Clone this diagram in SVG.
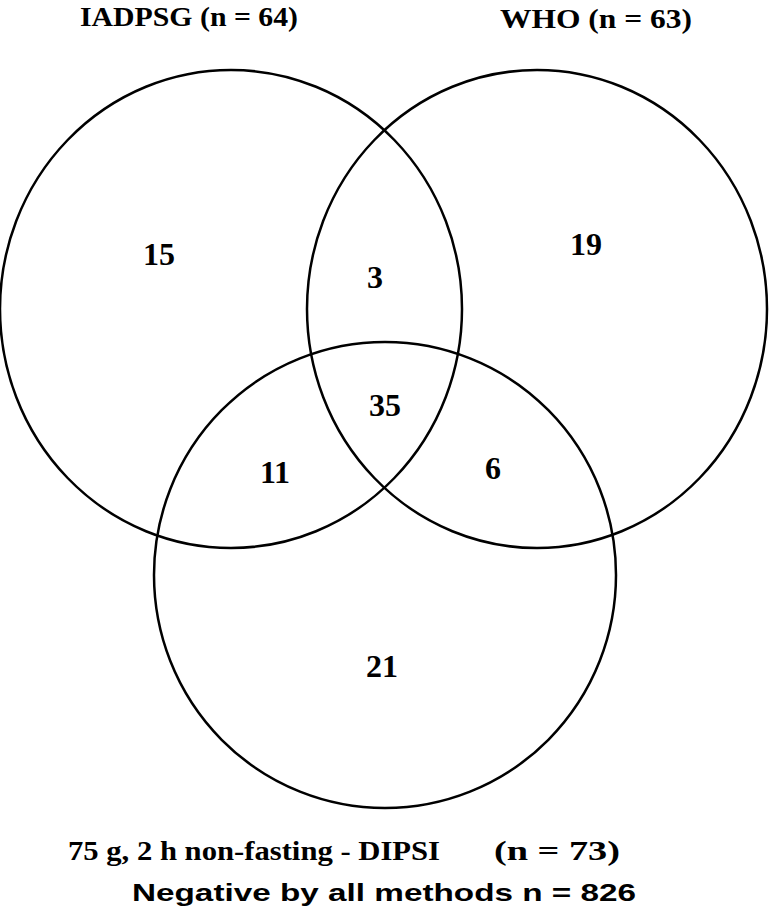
<svg xmlns="http://www.w3.org/2000/svg" width="769" height="917" viewBox="0 0 769 917">
<style>
.c{fill:none;stroke:#000;stroke-width:2.5}
.t{font-family:"Liberation Serif",serif;font-weight:bold;fill:#000}
.n{font-family:"Liberation Serif",serif;font-weight:bold;font-size:32px;text-anchor:middle;fill:#000}
.s{font-family:"Liberation Sans",sans-serif;font-weight:bold;font-size:24px;fill:#000}
</style>
<rect width="769" height="917" fill="#fff"/>
<g id="connectors"></g>
<g id="iadpsg"><ellipse class="c" cx="231" cy="309" rx="231" ry="239"/><text class="t" x="80" y="26" font-size="27" textLength="218" lengthAdjust="spacingAndGlyphs">IADPSG (n = 64)</text></g>
<g id="who"><ellipse class="c" cx="537" cy="309" rx="230" ry="239"/><text class="t" x="500" y="28" font-size="27" textLength="192" lengthAdjust="spacingAndGlyphs">WHO (n = 63)</text></g>
<g id="dipsi"><ellipse class="c" cx="385" cy="575" rx="231" ry="233"/><text class="t" x="68" y="860" font-size="28" textLength="372" lengthAdjust="spacingAndGlyphs">75 g, 2 h non-fasting - DIPSI</text><text class="t" x="494" y="860" font-size="27" textLength="126" lengthAdjust="spacingAndGlyphs">(n = 73)</text></g>
<g id="numbers">
<text class="n" x="159" y="265">15</text>
<text class="n" x="375" y="288">3</text>
<text class="n" x="586" y="255">19</text>
<text class="n" x="385" y="416">35</text>
<text class="n" x="275" y="483">11</text>
<text class="n" x="493" y="479">6</text>
<text class="n" x="382" y="677">21</text>
</g>
<g id="negative"><text class="s" x="132" y="901" textLength="504" lengthAdjust="spacingAndGlyphs">Negative by all methods n = 826</text></g>
</svg>
